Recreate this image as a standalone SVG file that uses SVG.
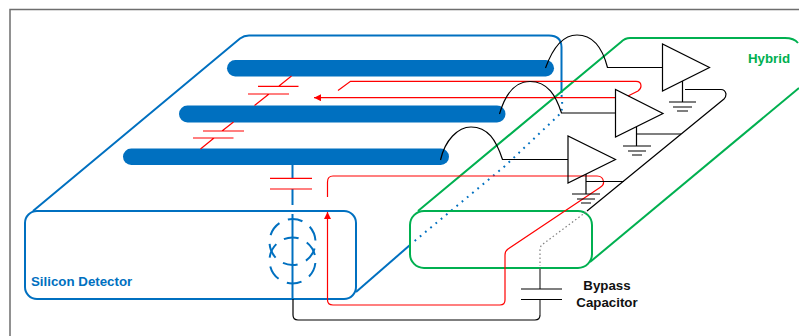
<svg xmlns="http://www.w3.org/2000/svg" width="799" height="336" viewBox="0 0 799 336">
<defs>
<style>
.b{fill:none;stroke:#0070c0;stroke-width:2}
.g{fill:none;stroke:#00b050;stroke-width:2}
.r{fill:none;stroke:#ff0000;stroke-width:1.200}
.k{fill:none;stroke:#000;stroke-width:1.200}
.s{fill:#0070c0}
.t{font-family:"Liberation Sans",Arial,sans-serif;font-weight:bold;font-size:13.300px}
</style>
<marker id="ah" markerWidth="8" markerHeight="8" refX="7" refY="3.500" orient="auto" markerUnits="userSpaceOnUse"><path d="M0 0L7 3.500L0 7Z" fill="#f00"/></marker>
</defs>
<path d="M10 336V9.500H799" fill="none" stroke="#6e6e6e" stroke-width="1.500"/>
<g id="silicon-detector">
<rect class="b" x="25" y="211" width="331" height="88" rx="12"/>
<path class="b" d="M33 211L240 38.500Q244 35.500 249 35.500H549Q561 35.500 561.500 47V93"/>
<path class="b" d="M561.500 95Q563 106 561 113L505 166L411 244" stroke-dasharray="1.800 5"/>
<path class="b" d="M410 245L356 292"/>
<ellipse class="b" cx="292.500" cy="242" rx="23" ry="23" stroke-dasharray="15 9.080" stroke-dashoffset="-6.600"/>
<ellipse class="b" cx="292.500" cy="260.500" rx="23" ry="23" stroke-dasharray="15 9.080" stroke-dashoffset="-2.600"/>
<path class="b" d="M292.500 165V178M292.500 189V205M292.500 214V299"/>
<text class="t" x="31" y="286" fill="#0070c0">Silicon Detector</text>
</g>
<g id="strips">
<rect class="s" x="227" y="60" width="327" height="16.500" rx="8.250"/>
<rect class="s" x="179" y="105.500" width="326.500" height="17" rx="8.500"/>
<rect class="s" x="123" y="148.500" width="326" height="16.500" rx="8.250"/>
</g>
<g id="hybrid">
<rect class="g" x="410" y="211" width="182" height="57" rx="14"/>
<path class="g" d="M418 211L621 42Q625 38 630 38H785Q794 38 798 43"/>
<path class="g" d="M590 262L799 88"/>
<text class="t" x="748" y="63" fill="#00b050">Hybrid</text>
</g>
<g id="connectors">
<path class="r" d="M291.500 76L279 86M258 86.300H298.500M248 94H289M269 94L254.500 105.500"/>
<path class="r" d="M233.500 122L222 131M203 131H244M193 138H233.500M214 138L200.500 149"/>
<path class="r" d="M270 178.300H312M270 189H312"/>
<path class="r" d="M338 90.500L350.500 81.300H636Q641 81.300 641 86Q641 89 638 91L628 96"/>
<path class="r" d="M615 97.700H314" marker-end="url(#ah)"/>
<path class="r" d="M327.500 197V182Q327.500 176 333 176H597Q603 176 603.500 182Q604 185 600 187.500L508 249Q505 251 505 255V300Q505 305 500 305H333Q327.500 305 327.500 300V212" marker-end="url(#ah)"/>
<path class="k" d="M545.500 68C552 50 562 35 577 35C595 35 603 50 607.500 67.500H662"/>
<path class="k" d="M499.500 114C505 95 515 81.500 530 81.500C548 81.500 556 96 561.500 113H615.500"/>
<path class="k" d="M440.500 160C445 140 458 127 471 127C488 127 496 140 502.500 159.500H568"/>
<path class="k" d="M685 89.500H721Q725 89.500 726 94Q726 97 724 99L587 211"/>
<path d="M586 212L543 244Q540 246 540 250V266" fill="none" stroke="#808080" stroke-width="1.200" stroke-dasharray="1.500 2.500"/>
<path d="M540 268V289M540 299V315" fill="none" stroke="#595959" stroke-width="1.500"/>
<path class="k" d="M521 289H562M521 299.500H562"/>
<path class="k" d="M540 315Q540 320 535 320H298Q293 320 293 315V299"/>
<path class="k" d="M636.500 134H681M586 181.500H624"/>
<text class="t" x="607" y="290" text-anchor="middle" fill="#111">Bypass</text>
<text class="t" x="607" y="307" text-anchor="middle" fill="#111">Capacitor</text>
</g>
<g id="amp-1">
<path class="k" d="M662.500 44V91L709.500 67.500Z"/>
<path class="k" d="M682.500 81V102M669 102H696M673 107H692M677 111H688"/>
</g>
<g id="amp-2">
<path class="k" d="M615.500 89.500V137L663 113.500Z"/>
<path class="k" d="M636.500 127V146M623 146H651M628 151H646M632 155H642"/>
</g>
<g id="amp-3">
<path class="k" d="M568 136V183L615.500 159.500Z"/>
<path class="k" d="M586 174V194M572 194H600M577 199H595M581 203H591"/>
</g>
</svg>
